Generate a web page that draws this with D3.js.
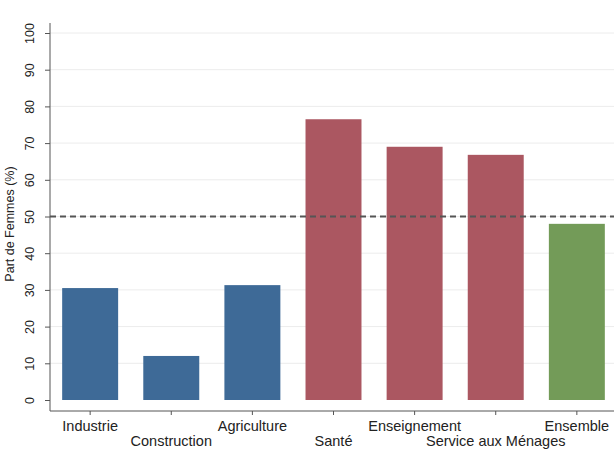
<!DOCTYPE html>
<html><head><meta charset="utf-8">
<script src="https://cdn.jsdelivr.net/npm/d3@7"></script>
<style>body{margin:0;background:#fff}svg{display:block}text{font-family:"Liberation Sans",Arial,sans-serif;fill:#222}</style>
</head><body><svg id="c" width="614" height="452"></svg>
<script>
const categories = ["Industrie","Construction","Agriculture","Santé","Enseignement","Service aux Ménages","Ensemble"];
const values = [30.5, 12, 31.3, 76.5, 69, 66.8, 48];
const groups = ["m","m","m","f","f","f","t"];
const yTicks = [0,10,20,30,40,50,60,70,80,90,100];
const refLine = 50;
const colors = {m:"#3e6a97", f:"#ab5761", t:"#739b58"};

const svg = d3.select("#c");
const left = 50, right = 617, y0 = 400, y100 = 33;
const x = d3.scaleBand().domain(categories).range([left, right]).paddingInner(0.31).paddingOuter(0.15);
const y = d3.scaleLinear().domain([0,100]).range([y0, y100]);

// gridlines
svg.append("g").selectAll("line").data(yTicks.filter(d=>d>0)).join("line")
  .attr("x1", left).attr("x2", 614).attr("y1", d=>y(d)).attr("y2", d=>y(d))
  .attr("stroke", "#ececec").attr("stroke-width", 1);

// bars
svg.append("g").selectAll("rect").data(categories).join("rect")
  .attr("x", d=>x(d)).attr("width", x.bandwidth())
  .attr("y", (d,i)=>y(values[i])).attr("height", (d,i)=>y(0)-y(values[i]))
  .attr("fill", (d,i)=>colors[groups[i]]);

// dashed reference
svg.append("line").attr("x1", left).attr("x2", 614).attr("y1", y(refLine)).attr("y2", y(refLine))
  .attr("stroke", "#555").attr("stroke-width", 1.8).attr("stroke-dasharray", "6,4");

// y axis
const yAxis = svg.append("g").attr("transform", `translate(${left},0)`)
  .call(d3.axisLeft(y).tickValues(yTicks).tickSize(5).tickPadding(12).tickSizeOuter(0));
yAxis.select(".domain").attr("d", `M0,23V411`).attr("stroke", "#555");
yAxis.selectAll(".tick line").attr("stroke", "#555");
yAxis.selectAll(".tick text").attr("transform", "rotate(-90)").attr("x", 0).attr("y", -20)
  .attr("dy", "0.35em").attr("text-anchor", "middle").style("font-size", "12.5px").style("fill", "#222");

// x axis
const xAxis = svg.append("g").attr("transform", `translate(0,411)`)
  .call(d3.axisBottom(x).tickSize(4).tickSizeOuter(0));
xAxis.select(".domain").attr("d", `M${left},0H614`).attr("stroke", "#555");
xAxis.selectAll(".tick line").attr("stroke", "#555");
xAxis.selectAll(".tick text").attr("y", (d,i)=> i%2===0 ? 10 : 25)
  .attr("dy", "0.71em").style("font-size", "14.5px").style("fill", "#222");

// axis title
svg.append("text").attr("transform", "translate(14,224) rotate(-90)")
  .attr("text-anchor", "middle").style("font-size", "12.5px").text("Part de Femmes (%)");
</script></body></html>
